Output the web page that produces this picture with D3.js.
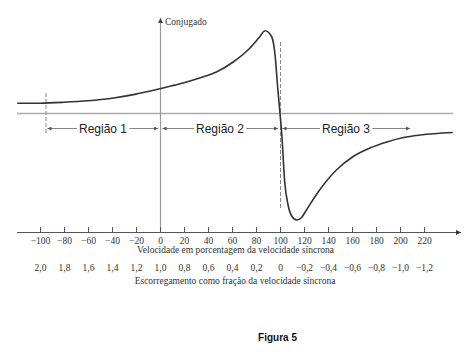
<!DOCTYPE html>
<html><head><meta charset="utf-8">
<script src="https://cdn.jsdelivr.net/npm/d3@7"></script>
<style>body{margin:0;background:#fff}svg{display:block}
.serif{font-family:"Liberation Serif","Times New Roman",Times,serif}
.sans{font-family:"Liberation Sans",Arial,Helvetica,sans-serif}
</style>
</head><body>
<svg id="c" width="474" height="352"></svg>
<script>
// speed in % of synchronous speed
const speed  = [-119,-100,-80,-60,-40,-20,-10,0,10,20,33,47,61,75,83,87.5,93,96,98,100,101.4,104,107,110,114,118,122,133,147,161,175,189,203,217,244];
// torque (arbitrary units)
const torque = [10.2,10.3,11.2,12.7,15.3,19.4,22,24.8,27.7,30.8,35.5,41.5,51.5,65.5,76.5,82.8,77,57,27,0,-19.5,-69.5,-93,-103,-106.5,-104,-96.5,-76.5,-56.5,-43,-34.5,-28.5,-24,-21.5,-19];
const speedTicks = [-100,-80,-60,-40,-20,0,20,40,60,80,100,120,140,160,180,200,220];
const slipTicks  = [2.0,1.8,1.6,1.4,1.2,1.0,0.8,0.6,0.4,0.2,0,-0.2,-0.4,-0.6,-0.8,-1.0,-1.2];
const slipLabels = ["2,0","1,8","1,6","1,4","1,2","1,0","0,8","0,6","0,4","0,2","0","\u22120,2","\u22120,4","\u22120,6","\u22120,8","\u22121,0","\u22121,2"];
const regions = [
  {label:"Região 1", from:-95, to:0},
  {label:"Região 2", from:0, to:100},
  {label:"Região 3", from:100, to:210}
];
const speedTitle = "Velocidade em porcentagem da velocidade síncrona";
const slipTitle = "Escorregamento como fração da velocidade síncrona";
const yTitle = "Conjugado";
const caption = "Figura 5";

const svg = d3.select("#c");
const x = d3.scaleLinear().domain([-100,220]).range([40,424]);
const s = d3.scaleLinear().domain([2.0,-1.2]).range([40,424]);
const y = d3.scaleLinear().domain([-110,90]).range([223.5,23.5]);
const axisY = 232.5;

const defs = svg.append("defs");
function marker(id, color, w, h){
  defs.append("marker").attr("id",id).attr("viewBox","0 0 10 10").attr("refX",10).attr("refY",5)
    .attr("markerWidth",w).attr("markerHeight",h).attr("markerUnits","userSpaceOnUse").attr("orient","auto-start-reverse")
    .append("path").attr("d","M0,0L10,5L0,10z").attr("fill",color);
}
marker("axArr","#333",8,5);
marker("vArr","#444",5,7);
marker("rArr","#555",5,4);

// zero torque line
svg.append("line").attr("x1",17).attr("x2",453).attr("y1",y(0)).attr("y2",y(0))
  .attr("stroke","#aaa").attr("stroke-width",1.5);

// vertical axis
svg.append("line").attr("x1",x(0)+0.5).attr("x2",x(0)+0.5).attr("y1",axisY).attr("y2",18)
  .attr("stroke","#999").attr("stroke-width",1.2).attr("marker-end","url(#vArr)");
svg.append("text").attr("class","serif").attr("x",165).attr("y",25).attr("font-size",9.5)
  .attr("fill","#333").text(yTitle);

// dashed lines
svg.append("line").attr("x1",x(-95)).attr("x2",x(-95)).attr("y1",93).attr("y2",133)
  .attr("stroke","#888").attr("stroke-dasharray","4,2").attr("stroke-width",1);
svg.append("line").attr("x1",x(100)+0.5).attr("x2",x(100)+0.5).attr("y1",42).attr("y2",210)
  .attr("stroke","#888").attr("stroke-dasharray","4,2").attr("stroke-width",1);

// regions
const ry = 128.5;
regions.forEach(r=>{
  const x1 = x(r.from)+ (r.from===-95?1.5:2.5), x2 = x(r.to)-2;
  const t = svg.append("text").attr("class","sans").attr("x",(x(r.from)+x(r.to))/2).attr("y",ry+4.3)
    .attr("text-anchor","middle").attr("font-size",12).attr("fill","#222").text(r.label);
  const bb = t.node().getBBox();
  svg.append("line").attr("x1",bb.x-2).attr("x2",x1).attr("y1",ry).attr("y2",ry)
    .attr("stroke","#777").attr("stroke-width",0.9).attr("marker-end","url(#rArr)");
  svg.append("line").attr("x1",bb.x+bb.width+2).attr("x2",x2).attr("y1",ry).attr("y2",ry)
    .attr("stroke","#777").attr("stroke-width",0.9).attr("marker-end","url(#rArr)");
});

// curve
const line = d3.line().x((d,i)=>x(speed[i])).y(d=>y(d)).curve(d3.curveMonotoneX);
svg.append("path").attr("d",line(torque)).attr("fill","none").attr("stroke","#333").attr("stroke-width",1.6);

// x axis line
svg.append("line").attr("x1",17).attr("x2",461).attr("y1",axisY).attr("y2",axisY)
  .attr("stroke","#555").attr("stroke-width",1.2).attr("marker-end","url(#axArr)");

const fmt = v => v<0 ? "\u2212"+Math.abs(v) : String(v);
const gx = svg.append("g").attr("transform",`translate(0,${axisY})`)
  .call(d3.axisBottom(x).tickValues(speedTicks).tickSizeInner(-5.5).tickSizeOuter(0).tickPadding(4.5).tickFormat(fmt));
gx.attr("font-family",null);
gx.select(".domain").remove();
gx.selectAll(".tick line").attr("stroke","#555").attr("stroke-width",1);
gx.selectAll("text").attr("class","serif").attr("font-size",9.5).attr("fill","#333");

const gs = svg.append("g").attr("transform",`translate(0,260)`)
  .call(d3.axisBottom(s).tickValues(slipTicks).tickSize(0).tickPadding(4.5).tickFormat((d,i)=>slipLabels[i]));
gs.attr("font-family",null);
gs.select(".domain").remove();
gs.selectAll("text").attr("class","serif").attr("font-size",9.5).attr("fill","#333");

svg.append("text").attr("class","serif").attr("x",235.5).attr("y",253).attr("text-anchor","middle")
  .attr("font-size",9.5).attr("fill","#333").text(speedTitle);
svg.append("text").attr("class","serif").attr("x",235).attr("y",283.5).attr("text-anchor","middle")
  .attr("font-size",9.5).attr("fill","#333").text(slipTitle);

svg.append("text").attr("class","sans").attr("x",277.5).attr("y",341).attr("text-anchor","middle")
  .attr("font-weight","bold").attr("font-size",10).attr("fill","#111").text(caption);
</script>
</body></html>
